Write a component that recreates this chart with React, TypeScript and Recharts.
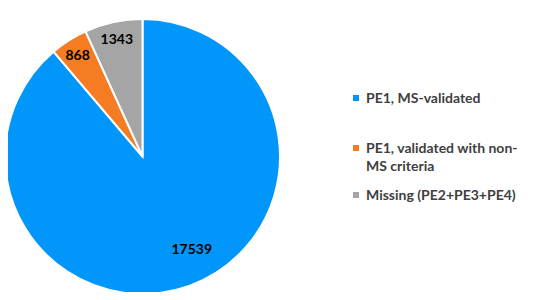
import { PieChart, Pie, Cell, Legend } from "recharts";

// slice order follows the reference (clockwise from 12 o'clock)
const CATEGORIES = [
  "PE1, MS-validated",
  "PE1, validated with non-MS criteria",
  "Missing (PE2+PE3+PE4)",
];
const COUNTS = [17539, 868, 1343];
const COLORS = ["#0096FA", "#F57C22", "#A5A5A5"];

const data = CATEGORIES.map((name, i) => ({
  name,
  value: COUNTS[i],
  color: COLORS[i],
}));

const FONT = "Lato, 'Open Sans', sans-serif";
const RAD = Math.PI / 180;

// labels sit deeper inside for the big slice (nudged like Excel's best fit),
// near the rim for the small ones
const renderLabel = (props: any) => {
  const { cx, cy, midAngle, outerRadius, percent, value } = props;
  const big = percent > 0.5;
  const r = outerRadius * (big ? 0.76 : 0.88);
  const a = big ? midAngle + 8 : midAngle;
  const x = cx + r * Math.cos(-a * RAD);
  const y = cy + r * Math.sin(-a * RAD);
  return (
    <text
      x={x}
      y={y}
      fill="#000"
      textAnchor="middle"
      dominantBaseline="central"
      fontFamily={FONT}
      fontWeight={700}
      fontSize={14}
    >
      {value}
    </text>
  );
};

const LegendBox = () => (
  <div style={{ fontFamily: FONT, fontWeight: 700, fontSize: 14, color: "#404040" }}>
    {data.map((d, i) => (
      <div
        key={d.name}
        style={{
          display: "flex",
          alignItems: "flex-start",
          width: 175,
          lineHeight: "18px",
          marginBottom: i === 0 ? 32 : 11,
        }}
      >
        <span
          style={{
            display: "inline-block",
            width: 6,
            height: 6,
            background: d.color,
            marginTop: 6,
            marginRight: 7,
            flexShrink: 0,
          }}
        />
        <span>{d.name}</span>
      </div>
    ))}
  </div>
);

export default function App() {
  return (
    <div style={{ margin: -8, width: 535, height: 300, background: "#fff" }}>
      <PieChart width={535} height={300} margin={{ top: 0, right: 0, bottom: 0, left: 0 }}>
        <Pie
          data={data}
          dataKey="value"
          nameKey="name"
          cx={142.5}
          cy={156.5}
          outerRadius={137.5}
          startAngle={90}
          endAngle={-270}
          stroke="#fff"
          strokeWidth={2}
          label={renderLabel}
          labelLine={false}
          isAnimationActive={false}
        >
          {data.map((d, i) => (
            <Cell key={`cell-${i}`} fill={d.color} />
          ))}
        </Pie>
        <Legend
          layout="vertical"
          content={<LegendBox />}
          wrapperStyle={{ position: "absolute", left: 353, top: 89, width: 180 }}
        />
      </PieChart>
    </div>
  );
}
